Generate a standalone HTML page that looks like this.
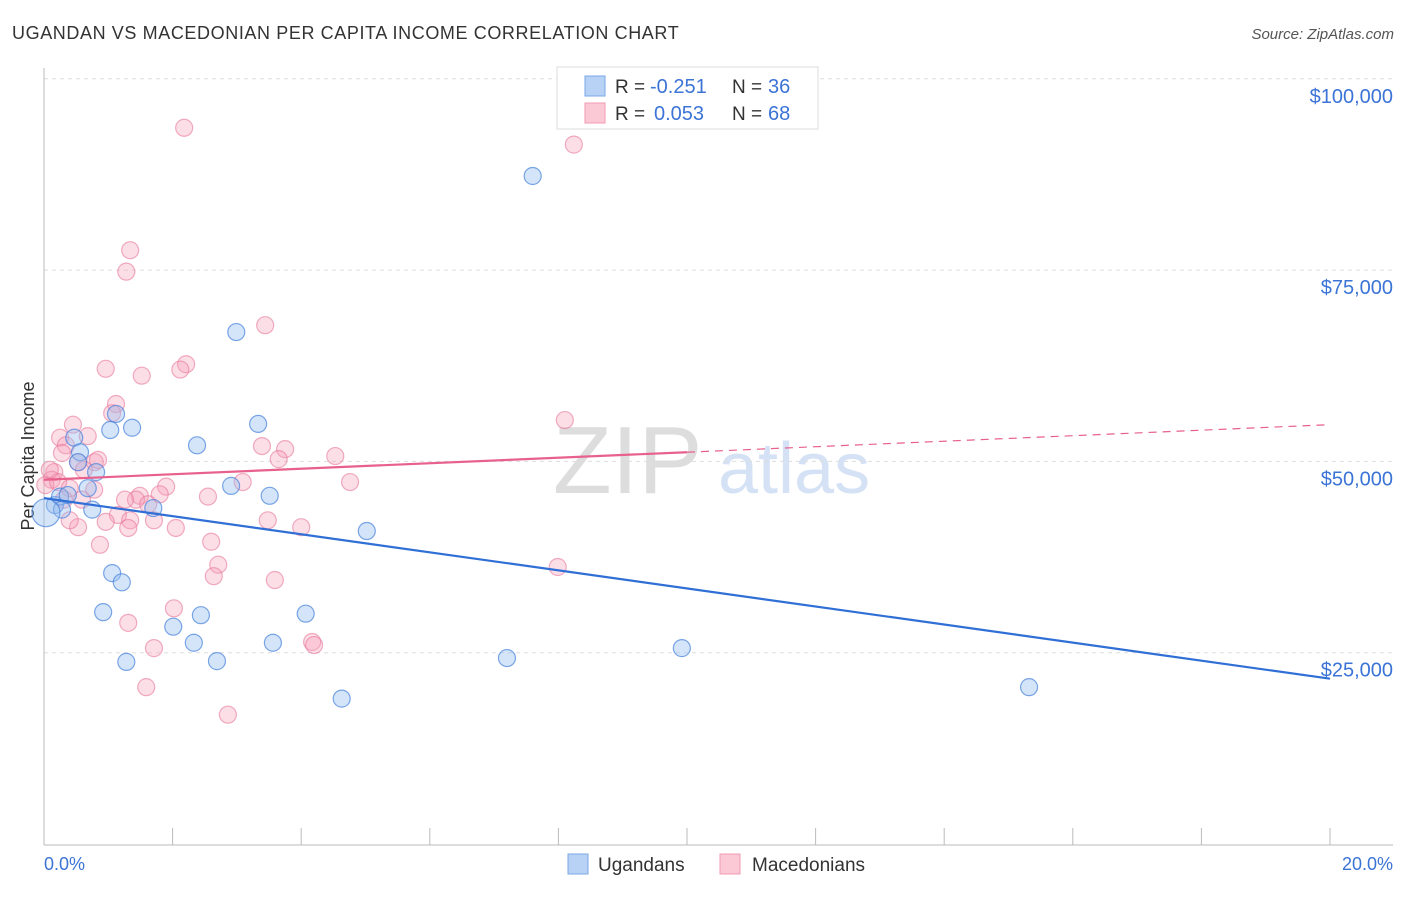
<!DOCTYPE html>
<html><head><meta charset="utf-8"><style>
body{margin:0;background:#fff;font-family:"Liberation Sans",sans-serif;}
svg text{font-family:"Liberation Sans",sans-serif;}
</style></head><body>
<svg width="1406" height="892" xmlns="http://www.w3.org/2000/svg">
<text x="12" y="39" font-size="18" letter-spacing="0.6" fill="#333">UGANDAN VS MACEDONIAN PER CAPITA INCOME CORRELATION CHART</text>
<text x="1394" y="39" font-size="15" fill="#555" font-style="italic" text-anchor="end">Source: ZipAtlas.com</text>
<g>
<text x="553" y="493" font-size="96" font-family="Liberation Serif,serif" fill="#ddd">ZIP</text>
<text x="718" y="493" font-size="72" fill="#d5e2f5">atlas</text>
</g>
<g id="grid"></g>
<line x1="44" y1="68" x2="44" y2="845" stroke="#bbb"/>
<line x1="44" y1="845" x2="1393" y2="845" stroke="#bbb"/>
<g id="xticks"></g>
<text x="34" y="456" font-size="18" fill="#333" text-anchor="middle" transform="rotate(-90 34 456)">Per Capita Income</text>
<text x="44" y="870" font-size="18" fill="#3b74d6">0.0%</text>
<text x="1393" y="870" font-size="18" fill="#3b74d6" text-anchor="end">20.0%</text>
<g id="pts"></g>
<g id="lines"></g>
<g>
<rect x="557" y="67" width="261" height="62" fill="#fff" stroke="#ddd"/>
<rect x="585" y="76" width="20" height="20" fill="#b8d2f5" stroke="#7aa7e8"/>
<rect x="585" y="103" width="20" height="20" fill="#fbc8d6" stroke="#f09ab3"/>
<text x="615" y="93" font-size="19" fill="#333">R =</text>
<text x="650" y="93" font-size="20" fill="#3b74d6">-0.251</text>
<text x="732" y="93" font-size="19" fill="#333">N =</text>
<text x="768" y="93" font-size="20" fill="#3b74d6">36</text>
<text x="615" y="120" font-size="19" fill="#333">R =</text>
<text x="654" y="120" font-size="20" fill="#3b74d6">0.053</text>
<text x="732" y="120" font-size="19" fill="#333">N =</text>
<text x="768" y="120" font-size="20" fill="#3b74d6">68</text>
</g>
<g>
<rect x="568" y="854" width="20" height="20" fill="#b8d2f5" stroke="#7aa7e8"/>
<text x="598" y="871" font-size="19" fill="#333">Ugandans</text>
<rect x="720" y="854" width="20" height="20" fill="#fbc8d6" stroke="#f09ab3"/>
<text x="752" y="871" font-size="19" fill="#333">Macedonians</text>
</g>
</svg>
<script>
const yTicks=[25000,50000,75000,100000];
const yTickLabels=["$25,000","$50,000","$75,000","$100,000"];
const blueX=[.17,.25,.37,.28,.47,.56,.53,.68,.81,.75,1.03,1.12,1.37,1.06,1.21,.92,1.28,1.70,2.01,2.38,2.33,2.44,2.69,2.99,2.91,3.33,3.51,3.56,4.07,4.63,5.02,7.20,7.60,9.92,15.32,.03];
const blueY=[44300,45400,45600,43700,53100,51200,49900,46500,48600,43700,54100,56200,54400,35400,34200,30300,23800,43900,28400,52100,26300,29900,23900,66900,46800,54900,45500,26300,30100,19000,40900,24300,87300,25600,20500,43300];
const pinkX=[2.18,8.24,1.34,1.28,3.44,.96,2.21,2.12,1.52,1.12,1.06,8.10,.45,.25,.68,.34,.28,.79,.84,.53,3.39,3.75,3.65,4.53,.16,.12,.02,.22,.40,.78,1.90,3.09,4.76,2.55,1.80,1.49,1.43,1.62,1.15,.96,1.34,1.71,2.05,1.31,.53,.87,2.60,3.48,4.00,2.71,2.64,3.59,7.99,2.02,1.31,1.71,4.17,4.20,1.59,2.86,.62,.09,.31,.59,1.26,.40];
const pinkY=[93600,91400,77600,74800,67800,62100,62700,62000,61200,57500,56300,55400,54800,53100,53300,52100,51100,49900,50200,49900,52000,51600,50300,50700,48600,47600,46900,47300,46500,46300,46700,47300,47300,45400,45700,45500,45000,44400,43000,42100,42300,42300,41300,41300,41400,39100,39500,42300,41400,36500,35000,34500,36200,30800,28900,25600,26400,26000,20500,16900,48900,48900,45000,45000,45000,42300];
const blueTrend=[45200,21600];
const pinkTrend=[47600,54800];
const NS="http://www.w3.org/2000/svg";
const X=v=>44+v/20*1286;
const Y=v=>844-v/25000*191.3;
function mk(tag,attrs,parent){const e=document.createElementNS(NS,tag);for(const k in attrs)e.setAttribute(k,attrs[k]);document.getElementById(parent).appendChild(e);return e;}
yTicks.forEach((t,i)=>{
 const l=mk('line',{x1:44,x2:1393,y1:Y(t),y2:Y(t),stroke:'#ddd','stroke-dasharray':'4,4'},'grid');
 
 
 const tx=mk('text',{x:1393,y:Y(t)+24,'font-size':20,fill:'#3b74d6','text-anchor':'end'},'grid');
 tx.textContent=yTickLabels[i];
 
 
});
for(let i=0;i<=10;i++){
 const l=mk('line',{x1:X(i*2),x2:X(i*2),y1:828,y2:845,stroke:'#bbb'},'xticks');
 
 
}
pinkX.forEach((x,i)=>{
 const c=mk('circle',{cx:X(x),cy:Y(pinkY[i]),r:8.5,fill:'rgba(246,160,185,0.35)',stroke:'rgba(232,120,155,0.6)','stroke-width':1.2},'pts');
 
 
});
blueX.forEach((x,i)=>{
 const c=mk('circle',{cx:X(x),cy:Y(blueY[i]),r:i===35?14:8.5,fill:'rgba(150,190,240,0.4)',stroke:'rgba(70,130,220,0.7)','stroke-width':1.2},'pts');
 
 
});
const bl=mk('line',{x1:X(0),y1:Y(blueTrend[0]),x2:X(20),y2:Y(blueTrend[1]),stroke:'#2f6fd6','stroke-width':2.2},'lines');


const pm=pinkTrend[0]+(pinkTrend[1]-pinkTrend[0])*0.5;
const pl=mk('line',{x1:X(0),y1:Y(pinkTrend[0]),x2:X(10),y2:Y(pm),stroke:'#e8608c','stroke-width':2.2},'lines');


const pd=mk('line',{x1:X(10),y1:Y(pm),x2:X(20),y2:Y(pinkTrend[1]),stroke:'#e8608c','stroke-width':1.2,'stroke-dasharray':'8,6'},'lines');


</script>
</body></html>
